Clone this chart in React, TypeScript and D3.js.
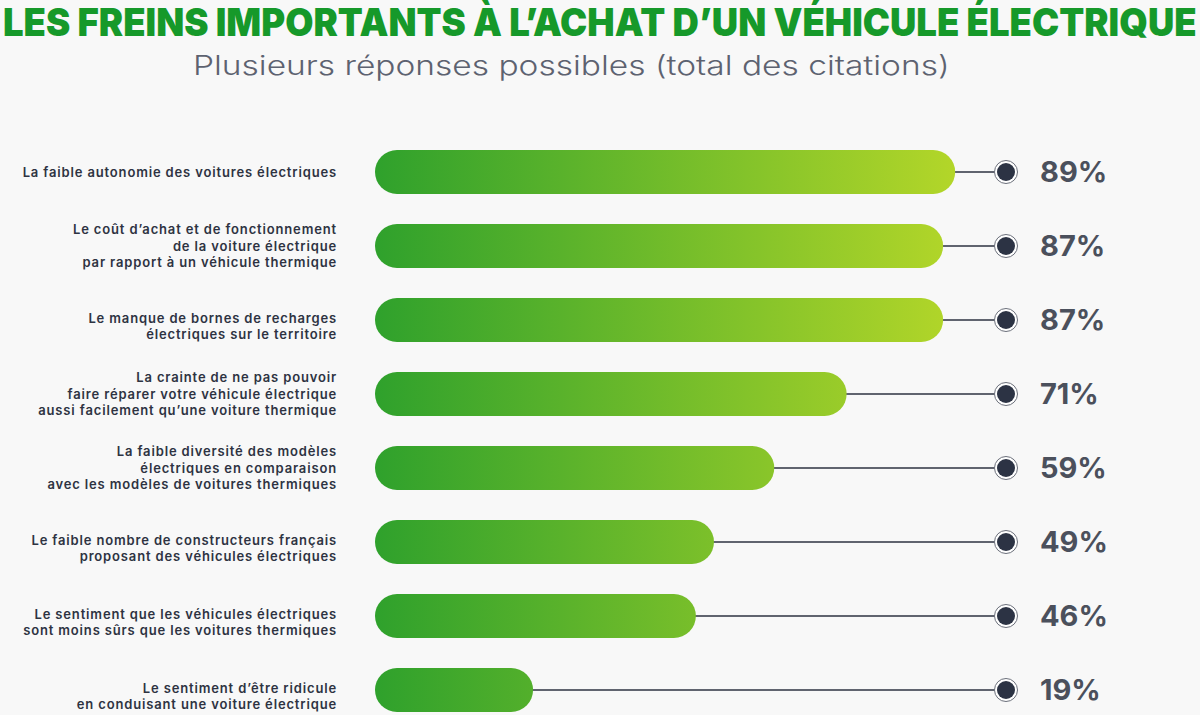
import React, { useEffect, useRef, useState } from "react";
import * as d3 from "d3";

const TITLE = "LES FREINS IMPORTANTS À L’ACHAT D’UN VÉHICULE ÉLECTRIQUE";
const SUBTITLE = "Plusieurs réponses possibles (total des citations)";

const categories: string[][] = [
  ["La faible autonomie des voitures électriques"],
  ["Le coût d’achat et de fonctionnement", "de la voiture électrique", "par rapport à un véhicule thermique"],
  ["Le manque de bornes de recharges", "électriques sur le territoire"],
  ["La crainte de ne pas pouvoir", "faire réparer votre véhicule électrique", "aussi facilement qu’une voiture thermique"],
  ["La faible diversité des modèles", "électriques en comparaison", "avec les modèles de voitures thermiques"],
  ["Le faible nombre de constructeurs français", "proposant des véhicules électriques"],
  ["Le sentiment que les véhicules électriques", "sont moins sûrs que les voitures thermiques"],
  ["Le sentiment d’être ridicule", "en conduisant une voiture électrique"],
];
const values: number[] = [89, 87, 87, 71, 59, 49, 46, 19];
const valueLabels: string[] = ["89%", "87%", "87%", "71%", "59%", "49%", "46%", "19%"];

const W = 1200;
const H = 715;

export default function App() {
  const titleRef = useRef<SVGTextElement | null>(null);
  const subRef = useRef<SVGTextElement | null>(null);
  const [titleScale, setTitleScale] = useState(1);
  const [subScale, setSubScale] = useState(1);

  useEffect(() => {
    if (titleRef.current) {
      const L = titleRef.current.getComputedTextLength();
      if (L > 0) setTitleScale(1194 / L);
    }
    if (subRef.current) {
      const L = subRef.current.getComputedTextLength();
      if (L > 0) setSubScale(757 / L);
    }
  }, []);

  const x = d3.scaleLinear().domain([0, 100]).range([418.5, 1021.5]);
  const y = d3
    .scalePoint<number>()
    .domain(d3.range(values.length))
    .range([172, 690]);
  const barStart = 375;
  const barH = 44;
  const dotX = 1006;
  const labelX = 337;
  const lineGap = 16.7;
  const font = "Inter, 'Noto Sans', sans-serif";

  return (
    <svg
      width={W}
      height={H}
      viewBox={`0 0 ${W} ${H}`}
      style={{ position: "absolute", left: 0, top: 0, display: "block" }}
    >
      <defs>
        <linearGradient id="barGrad" gradientUnits="userSpaceOnUse" x1={barStart} x2={x(values[0])} y1={0} y2={0}>
          <stop offset="0%" stopColor="#2fa12c" />
          <stop offset="100%" stopColor="#b3d629" />
        </linearGradient>
      </defs>
      <rect x={0} y={0} width={W} height={H} fill="#f8f8f8" />
      <g transform={`translate(3,36) scale(${titleScale},1)`}>
        <text ref={titleRef} x={0} y={0} fontFamily={font} fontWeight={900} fontSize={38} fill="#16992a">
          {TITLE}
        </text>
      </g>
      <g transform={`translate(193,75) scale(${subScale},1)`}>
        <text ref={subRef} x={0} y={0} fontFamily={font} fontWeight={300} fontSize={27} fill="#5d6270">
          {SUBTITLE}
        </text>
      </g>
      {values.map((v, i) => {
        const cy = y(i) as number;
        const lines = categories[i];
        const n = lines.length;
        const off = n === 1 ? 0.5 : n === 2 ? 6.5 : 0;
        const xe = x(v);
        return (
          <g key={i}>
            <line x1={xe - 2} x2={dotX} y1={cy} y2={cy} stroke="#2e3342" strokeWidth={1.5} />
            <rect
              x={barStart}
              y={cy - barH / 2}
              width={xe - barStart}
              height={barH}
              rx={barH / 2}
              ry={barH / 2}
              fill="url(#barGrad)"
            />
            <circle cx={dotX} cy={cy} r={11.5} fill="#ffffff" stroke="#6b6f7a" strokeWidth={1} />
            <circle cx={dotX} cy={cy} r={9} fill="#2c3344" />
            <text
              x={1040}
              y={cy}
              dy="0.36em"
              fontFamily={font}
              fontWeight={700}
              fontSize={29}
              fill="#4b505c"
            >
              {valueLabels[i]}
            </text>
            {lines.map((ln, j) => (
              <text
                key={j}
                x={labelX}
                y={cy + (j - (n - 1) / 2) * lineGap + off}
                dy="0.35em"
                textAnchor="end"
                fontFamily={font}
                fontWeight={600}
                fontSize={13}
                letterSpacing={0.85}
                fill="#2e3342"
              >
                {ln}
              </text>
            ))}
          </g>
        );
      })}
    </svg>
  );
}
